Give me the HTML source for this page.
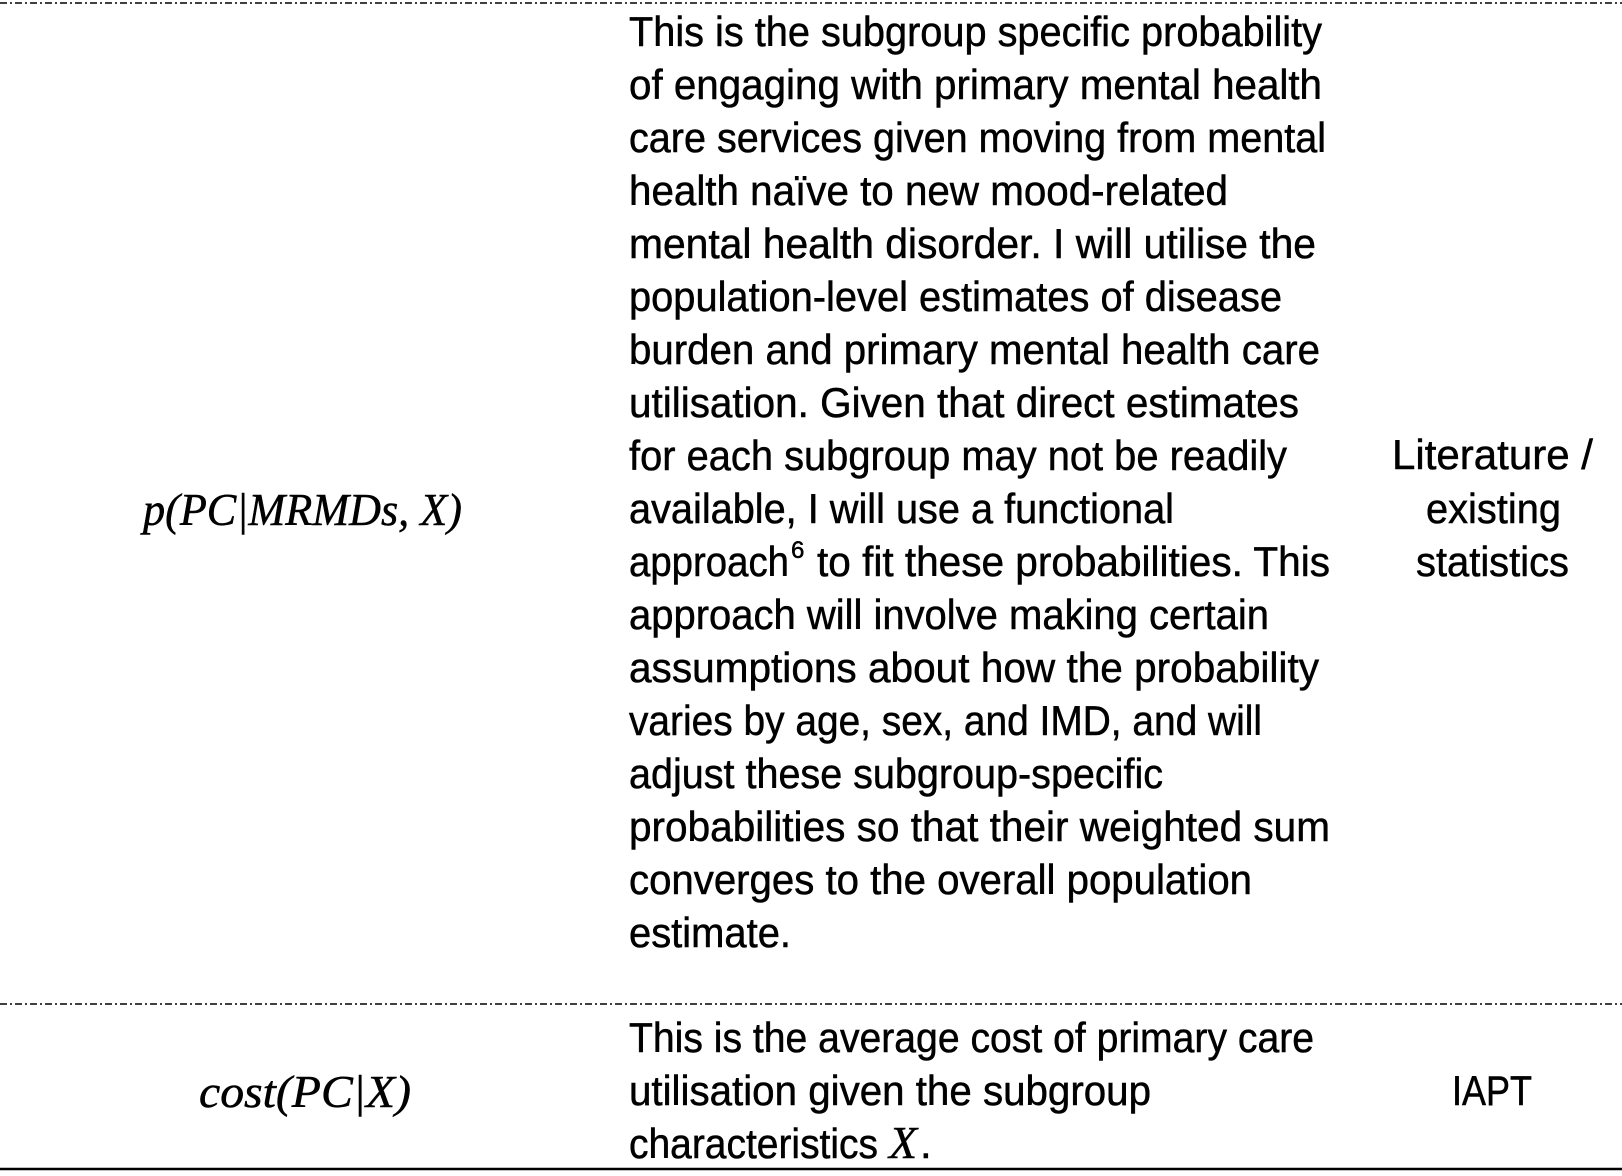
<!DOCTYPE html>
<html><head><meta charset="utf-8"><style>
html,body{margin:0;padding:0;background:#fff;}
svg{display:block;}
text{font-family:"Liberation Sans",sans-serif;font-size:42px;fill:#000;stroke:#000;stroke-width:0.5px;}
.m{font-family:"Liberation Serif",serif;font-style:italic;font-size:46px;}
</style></head><body>
<svg width="1622" height="1176" xmlns="http://www.w3.org/2000/svg">
<line x1="0" y1="3" x2="1622" y2="3" stroke="#000" stroke-width="1.5" stroke-dasharray="7 3 2 3"/>
<line x1="0" y1="1004" x2="1622" y2="1004" stroke="#000" stroke-width="1.5" stroke-dasharray="7 3 2 3"/>
<line x1="0" y1="1169" x2="1622" y2="1169" stroke="#000" stroke-width="2.5"/>

<text class="m" x="143" y="525" textLength="319" lengthAdjust="spacingAndGlyphs">p(PC|MRMDs, X)</text>
<text class="m" x="199" y="1107" textLength="212" lengthAdjust="spacingAndGlyphs">cost(PC|X)</text>

<text x="629" y="46" textLength="693" lengthAdjust="spacingAndGlyphs">This is the subgroup specific probability</text>
<text x="629" y="99" textLength="693" lengthAdjust="spacingAndGlyphs">of engaging with primary mental health</text>
<text x="629" y="152" textLength="697" lengthAdjust="spacingAndGlyphs">care services given moving from mental</text>
<text x="629" y="205" textLength="599" lengthAdjust="spacingAndGlyphs">health naïve to new mood-related</text>
<text x="629" y="258" textLength="687" lengthAdjust="spacingAndGlyphs">mental health disorder. I will utilise the</text>
<text x="629" y="311" textLength="653" lengthAdjust="spacingAndGlyphs">population-level estimates of disease</text>
<text x="629" y="364" textLength="691" lengthAdjust="spacingAndGlyphs">burden and primary mental health care</text>
<text x="629" y="417" textLength="670" lengthAdjust="spacingAndGlyphs">utilisation. Given that direct estimates</text>
<text x="629" y="470" textLength="658" lengthAdjust="spacingAndGlyphs">for each subgroup may not be readily</text>
<text x="629" y="523" textLength="545" lengthAdjust="spacingAndGlyphs">available, I will use a functional</text>
<text x="629" y="576" textLength="160" lengthAdjust="spacingAndGlyphs">approach</text>
<text x="791" y="558" style="font-size:24px">6</text>
<text x="817" y="576" textLength="513" lengthAdjust="spacingAndGlyphs">to fit these probabilities. This</text>
<text x="629" y="629" textLength="640" lengthAdjust="spacingAndGlyphs">approach will involve making certain</text>
<text x="629" y="682" textLength="690" lengthAdjust="spacingAndGlyphs">assumptions about how the probability</text>
<text x="629" y="735" textLength="633" lengthAdjust="spacingAndGlyphs">varies by age, sex, and IMD, and will</text>
<text x="629" y="788" textLength="534" lengthAdjust="spacingAndGlyphs">adjust these subgroup-specific</text>
<text x="629" y="841" textLength="701" lengthAdjust="spacingAndGlyphs">probabilities so that their weighted sum</text>
<text x="629" y="894" textLength="623" lengthAdjust="spacingAndGlyphs">converges to the overall population</text>
<text x="629" y="947" textLength="162" lengthAdjust="spacingAndGlyphs">estimate.</text>

<text x="629" y="1052" textLength="685" lengthAdjust="spacingAndGlyphs">This is the average cost of primary care</text>
<text x="629" y="1105" textLength="522" lengthAdjust="spacingAndGlyphs">utilisation given the subgroup</text>
<text x="629" y="1158" textLength="249" lengthAdjust="spacingAndGlyphs">characteristics</text>
<text class="m" x="889" y="1158">X</text>
<text x="920" y="1158">.</text>

<text x="1392" y="469" textLength="201" lengthAdjust="spacingAndGlyphs">Literature /</text>
<text x="1426" y="523" textLength="135" lengthAdjust="spacingAndGlyphs">existing</text>
<text x="1416" y="576" textLength="153" lengthAdjust="spacingAndGlyphs">statistics</text>
<text x="1452" y="1105" textLength="80" lengthAdjust="spacingAndGlyphs">IAPT</text>
</svg>
</body></html>
